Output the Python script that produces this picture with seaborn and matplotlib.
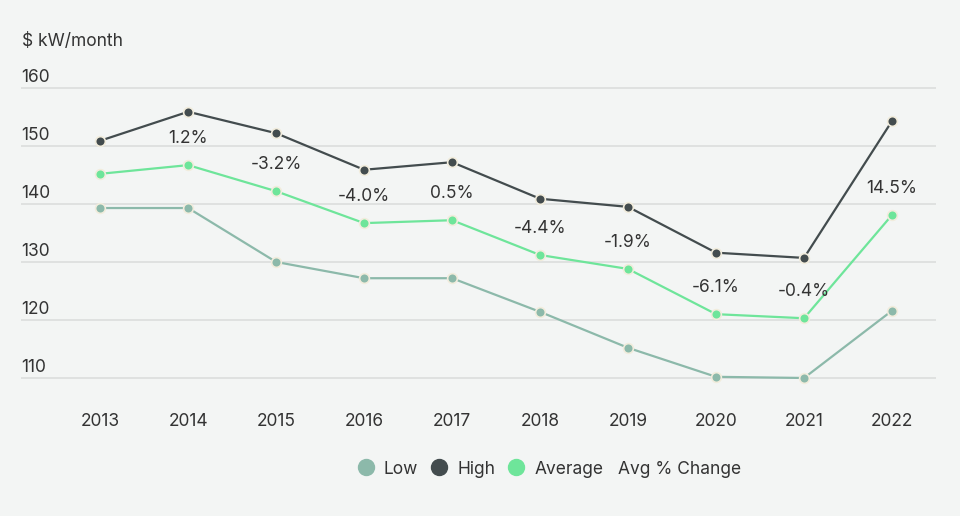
import pandas as pd
import numpy as np
import matplotlib.pyplot as plt
import seaborn as sns
from matplotlib.lines import Line2D

# --- data ---
years = [2013, 2014, 2015, 2016, 2017, 2018, 2019, 2020, 2021, 2022]
low = [139.3, 139.3, 130.0, 127.2, 127.2, 121.4, 115.2, 110.2, 110.0, 121.6]
high = [150.9, 155.9, 152.2, 145.9, 147.2, 140.9, 139.5, 131.6, 130.7, 154.3]
average = [145.2, 146.7, 142.2, 136.7, 137.2, 131.2, 128.8, 121.0, 120.3, 138.1]
avg_pct_change = [None, '1.2%', '-3.2%', '-4.0%', '0.5%', '-4.4%', '-1.9%', '-6.1%', '-0.4%', '14.5%']
y_ticks = [110, 120, 130, 140, 150, 160]

bg = '#f3f5f4'
c_low = '#8cb9aa'
c_high = '#434c4e'
c_avg = '#6ee59a'
c_text = '#333333'
c_edge = '#f1ecdc'

sns.set_theme(style='white')
plt.rcParams['font.family'] = ['Inter', 'DejaVu Sans']

fig = plt.figure(figsize=(9.6, 5.16), dpi=100, facecolor=bg)
ax = fig.add_axes([21 / 960, 0.245, (936 - 21) / 960, 0.607])
ax.set_facecolor(bg)

x = np.arange(len(years))
for vals, col in [(low, c_low), (high, c_high), (average, c_avg)]:
    sns.lineplot(x=x, y=vals, ax=ax, color=col, linewidth=1.6, marker='o',
                 markersize=7, markeredgecolor=c_edge, markeredgewidth=1.2, zorder=3)

for i, lab in enumerate(avg_pct_change):
    if lab:
        ax.annotate(lab, (x[i], average[i]), xytext=(0, 19), textcoords='offset points',
                    ha='center', va='center', fontsize=12.5, color=c_text)

ax.set_xlim(-0.9, 9.5)
ax.set_ylim(108, 162)
for yt in y_ticks:
    ax.axhline(yt, color='#d9dcdb', linewidth=1.1, zorder=1)
    ax.text(0, yt + 1.0, str(yt), transform=ax.get_yaxis_transform(), ha='left', va='baseline',
            fontsize=12.5, color=c_text)

ax.set_yticks([])
ax.set_xticks(x)
ax.set_xticklabels([str(y) for y in years], fontsize=12.5, color=c_text)
ax.tick_params(axis='x', length=0, pad=17)
sns.despine(ax=ax, left=True, bottom=True)

fig.text(22 / 960, 1 - 42 / 516, '$ kW/month', ha='left', va='center', fontsize=12.5, color=c_text)

handles = [
    Line2D([], [], marker='o', linestyle='none', markersize=11.5, color=c_low),
    Line2D([], [], marker='o', linestyle='none', markersize=11.5, color=c_high),
    Line2D([], [], marker='o', linestyle='none', markersize=11.5, color=c_avg),
]
leg = fig.legend(handles, ['Low', 'High', 'Average'], ncol=3, loc='center left',
                 bbox_to_anchor=(350 / 960, 1 - 469 / 516), frameon=False, fontsize=12.5,
                 handletextpad=0.55, columnspacing=0.7, handlelength=1.0, borderaxespad=0)
for t in leg.get_texts():
    t.set_color(c_text)
fig.text(618 / 960, 1 - 469 / 516, 'Avg % Change', ha='left', va='center', fontsize=12.5, color=c_text)

fig.savefig('out.png', dpi=100, facecolor=bg)
